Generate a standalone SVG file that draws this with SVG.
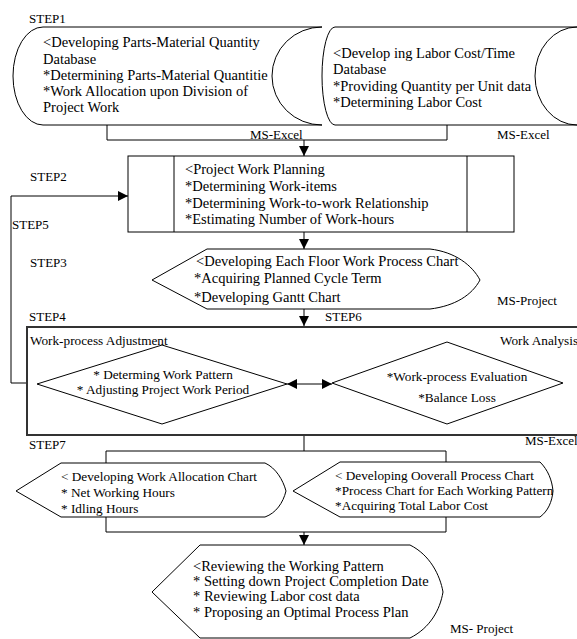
<svg xmlns="http://www.w3.org/2000/svg" width="577" height="639" viewBox="0 0 577 639">
<defs>
<style>
text{font-family:"Liberation Serif","Times New Roman",serif;fill:#000}
.lb{font-size:13px}
.t13{font-size:14.5px}
.t12{font-size:13.25px}
.sh{fill:#fff;stroke:#000;stroke-width:1}
.ln{fill:none;stroke:#000;stroke-width:1}
.big{fill:none;stroke:#333;stroke-width:2}
</style>
<marker id="ah" viewBox="0 0 10 10" refX="10" refY="5" markerWidth="10" markerHeight="10" markerUnits="userSpaceOnUse" orient="auto-start-reverse">
<path d="M0,0 L10,5 L0,10 Z" fill="#000"/>
</marker>
<clipPath id="c3"><rect x="150" y="245" width="340" height="64"/></clipPath>
</defs>
<rect width="577" height="639" fill="#fff"/>

<g id="labels">
<text class="lb" x="29" y="23">STEP1</text>
<text class="lb" x="30" y="181">STEP2</text>
<text class="lb" x="12" y="229">STEP5</text>
<text class="lb" x="30" y="267">STEP3</text>
<text class="lb" x="29" y="321">STEP4</text>
<text class="lb" x="325" y="321">STEP6</text>
<text class="lb" x="29" y="449">STEP7</text>
<text class="lb" x="250" y="139">MS-Excel</text>
<text class="lb" x="497" y="139">MS-Excel</text>
<text class="lb" x="497" y="305">MS-Project</text>
<text class="lb" x="525" y="445">MS-Excel</text>
<text class="lb" x="450" y="633">MS- Project</text>
</g>

<g id="connectors">
<polyline class="ln" points="107,125 107,140 447,140 447,125"/>
<line class="ln" x1="304" y1="140" x2="304" y2="156" marker-end="url(#ah)"/>
<line class="ln" x1="304" y1="232" x2="304" y2="249" marker-end="url(#ah)"/>
<line class="ln" x1="304" y1="309" x2="304" y2="326" marker-end="url(#ah)"/>
<polyline class="ln" points="27,383 11,383 11,196 128,196" marker-end="url(#ah)"/>
<line class="ln" x1="287" y1="384" x2="332" y2="384" marker-start="url(#ah)" marker-end="url(#ah)"/>
<line class="ln" x1="304" y1="435" x2="304" y2="451"/>
<polyline class="ln" points="106,463 106,451 446,451 446,462"/>
<polyline class="ln" points="106,517 106,532 446,532 446,517"/>
<line class="ln" x1="304" y1="532" x2="304" y2="545" marker-end="url(#ah)"/>
</g>

<g id="step1-parts">
<path class="sh" d="M43,27 H322 A50 49 0 0 0 322,125 H43 A30 49 0 0 1 43,27 Z"/>
<text class="t13" x="43" y="47">&lt;Developing Parts-Material Quantity</text>
<text class="t13" x="43" y="64">Database</text>
<text class="t13" x="43" y="80">*Determining Parts-Material Quantitie</text>
<text class="t13" x="43" y="96">*Work Allocation upon Division of</text>
<text class="t13" x="43" y="112">Project Work</text>
</g>

<g id="step1-labor">
<path class="sh" d="M335,27 H577 A42 49 0 0 0 577,125 H335 A13 49 0 0 1 335,27 Z"/>
<text class="t13" x="333" y="58">&lt;Develop ing Labor Cost/Time</text>
<text class="t13" x="333" y="74">Database</text>
<text class="t13" x="333" y="91">*Providing Quantity per Unit data</text>
<text class="t13" x="333" y="107">*Determining Labor Cost</text>
</g>

<g id="step2">
<rect class="sh" x="128" y="156" width="386" height="76"/>
<line class="ln" x1="174" y1="156" x2="174" y2="232"/>
<line class="ln" x1="467" y1="156" x2="467" y2="232"/>
<text class="t13" x="185" y="174">&lt;Project Work Planning</text>
<text class="t13" x="185" y="191">*Determining Work-items</text>
<text class="t13" x="185" y="208">*Determining Work-to-work Relationship</text>
<text class="t13" x="185" y="224">*Estimating Number of Work-hours</text>
</g>

<g id="step3">
<path class="sh" d="M207,249 H430 C455,252 472,265 480,280 C472,295 455,306 430,309 H207 L152,280 Z"/>
<g clip-path="url(#c3)">
<text class="t13" x="196" y="266">&lt;Developing Each Floor Work Process Chart</text>
<text class="t13" x="194" y="283">*Acquiring Planned Cycle Term</text>
<text class="t13" x="194" y="302">*Developing Gantt Chart</text>
</g>
</g>

<g id="step4-6">
<rect class="big" x="27" y="327" width="560" height="108"/>
<text class="t12" x="30" y="345">Work-process Adjustment</text>
<text class="t12" x="500" y="345">Work Analysis</text>
</g>

<g id="step4">
<path class="sh" d="M37,384 L162,345 L287,384 L162,424 Z"/>
<text class="t12" x="163" y="379" text-anchor="middle">* Determing Work Pattern</text>
<text class="t12" x="163" y="394" text-anchor="middle">* Adjusting Project Work Period</text>
</g>

<g id="step6">
<path class="sh" d="M332,383 L447,342 L563,383 L447,424 Z"/>
<text class="t12" x="457" y="381" text-anchor="middle">*Work-process Evaluation</text>
<text class="t12" x="457" y="402" text-anchor="middle">*Balance Loss</text>
</g>

<g id="step7-allocation">
<path class="sh" d="M61,463 H265 C276,468 283,480 286,491 C283,503 276,513 265,517 H61 L16,491 Z"/>
<text class="t12" x="61" y="481">&lt; Developing Work Allocation Chart</text>
<text class="t12" x="61" y="497">* Net Working Hours</text>
<text class="t12" x="61" y="513">* Idling Hours</text>
</g>

<g id="step7-overall">
<path class="sh" d="M340,462 H540 C548,470 552,480 553,491 C552,502 548,511 540,517 H340 L293,491 Z"/>
<text class="t12" x="335" y="480">&lt; Developing Ooverall Process Chart</text>
<text class="t12" x="335" y="495">*Process Chart for Each Working Pattern</text>
<text class="t12" x="335" y="510">*Acquiring Total Labor Cost</text>
</g>

<g id="final">
<path class="sh" d="M200,545 H410 C430,555 440,575 443,592 C440,610 430,628 410,638 H200 L152,592 Z"/>
<text class="t13" x="193" y="571">&lt;Reviewing the Working Pattern</text>
<text class="t13" x="193" y="586">* Setting down Project Completion Date</text>
<text class="t13" x="193" y="601">* Reviewing Labor cost data</text>
<text class="t13" x="193" y="617">* Proposing an Optimal Process Plan</text>
</g>
</svg>
